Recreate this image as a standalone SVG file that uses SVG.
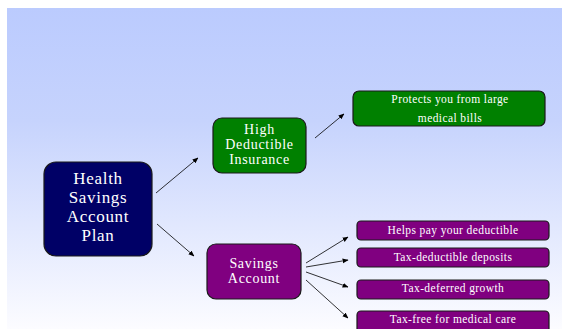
<svg xmlns="http://www.w3.org/2000/svg" width="562" height="329" viewBox="0 0 562 329">
  <defs>
    <linearGradient id="bg" x1="0" y1="0" x2="0" y2="1">
      <stop offset="0" stop-color="#bbcbfe"/>
      <stop offset="0.35" stop-color="#c6d3fd"/>
      <stop offset="1" stop-color="#fcfcff"/>
    </linearGradient>
    <marker id="arrow" viewBox="0 0 10 10" refX="9" refY="5" markerWidth="6" markerHeight="6" orient="auto" markerUnits="userSpaceOnUse">
      <path d="M0,1 L10,5 L0,9 z" fill="#000"/>
    </marker>
  </defs>
  <style>
    .box { stroke: #1a1a1a; stroke-width: 1.2; }
    .navy { fill: #000066; }
    .green { fill: #008000; }
    .purple { fill: #800080; }
    text { font-family: "Liberation Serif", "Times New Roman", serif; fill: #ffffff; text-anchor: middle; }
    .big { font-size: 17px; letter-spacing: 0.7px; }
    .mid { font-size: 14px; letter-spacing: 0.7px; }
    .small { font-size: 11.5px; letter-spacing: 0.4px; }
    .conn line { stroke: #000; stroke-width: 0.8; marker-end: url(#arrow); }
  </style>

  <rect x="7" y="8" width="555" height="321" fill="url(#bg)"/>

  <g class="conn" id="connectors">
    <line x1="156" y1="193" x2="198" y2="158"/>
    <line x1="157" y1="224" x2="194" y2="256"/>
    <line x1="315" y1="138" x2="344" y2="114"/>
    <line x1="306" y1="263" x2="348" y2="237"/>
    <line x1="306" y1="267" x2="348" y2="260"/>
    <line x1="306" y1="272" x2="348" y2="287"/>
    <line x1="306" y1="280" x2="348" y2="318"/>
  </g>

  <g id="hsa-plan">
    <rect class="box navy" x="44" y="162" width="108" height="94" rx="12"/>
    <text class="big" x="98" y="184">Health</text>
    <text class="big" x="98" y="203">Savings</text>
    <text class="big" x="98" y="222">Account</text>
    <text class="big" x="98" y="241">Plan</text>
  </g>

  <g id="high-deductible">
    <rect class="box green" x="213" y="118" width="93" height="55" rx="9"/>
    <text class="mid" x="259.5" y="134">High</text>
    <text class="mid" x="259.5" y="149">Deductible</text>
    <text class="mid" x="259.5" y="164">Insurance</text>
  </g>

  <g id="protects">
    <rect class="box green" x="353" y="91" width="192" height="35" rx="6"/>
    <text class="small" x="450" y="103">Protects you from large</text>
    <text class="small" x="450" y="122">medical bills</text>
  </g>

  <g id="savings-account">
    <rect class="box purple" x="207" y="244" width="94" height="55" rx="9"/>
    <text class="mid" x="254" y="268">Savings</text>
    <text class="mid" x="254" y="283">Account</text>
  </g>

  <g id="helps-pay">
    <rect class="box purple" x="357" y="221" width="192" height="19" rx="4"/>
    <text class="small" x="453" y="234">Helps pay your deductible</text>
  </g>

  <g id="tax-deductible">
    <rect class="box purple" x="357" y="248" width="192" height="19" rx="4"/>
    <text class="small" x="453" y="261">Tax-deductible deposits</text>
  </g>

  <g id="tax-deferred">
    <rect class="box purple" x="357" y="280" width="192" height="19" rx="4"/>
    <text class="small" x="453" y="292">Tax-deferred growth</text>
  </g>

  <g id="tax-free">
    <rect class="box purple" x="357" y="311" width="192" height="22" rx="4"/>
    <text class="small" x="453" y="323">Tax-free for medical care</text>
  </g>
</svg>
